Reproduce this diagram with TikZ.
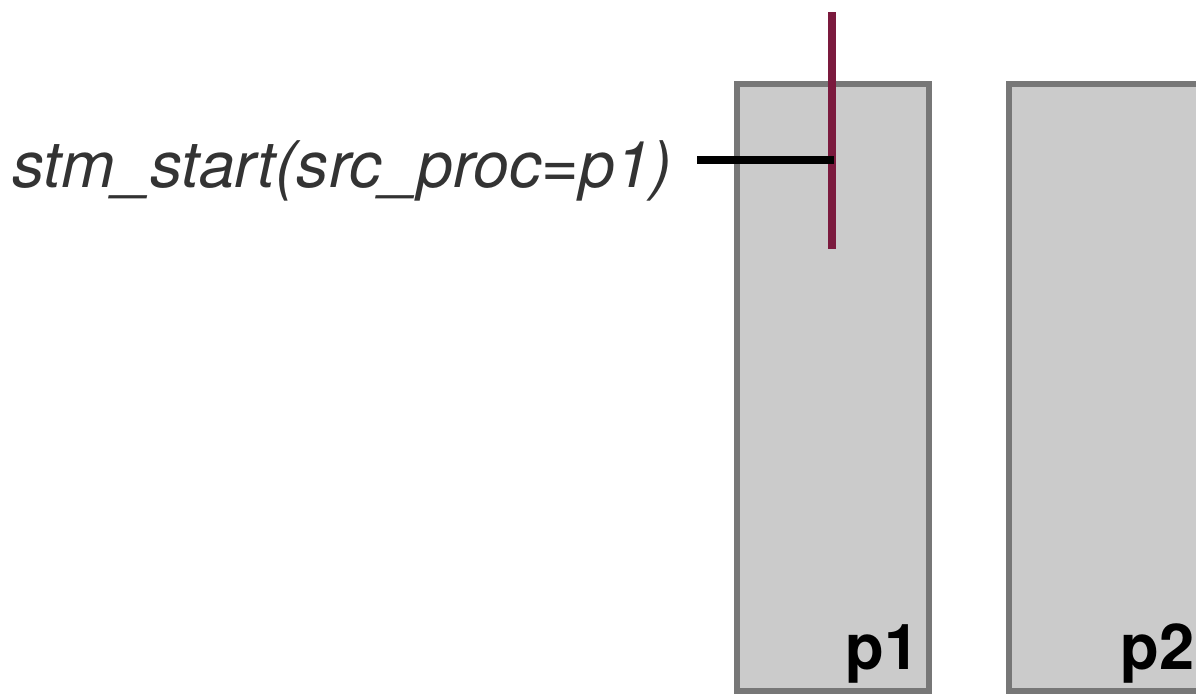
\documentclass[tikz,border=0pt]{standalone}
\usepackage{fontspec}
\setsansfont{TeX Gyre Heros}
\usepackage{xcolor}
\usetikzlibrary{positioning}
\definecolor{procFill}{HTML}{CBCBCB}
\definecolor{procEdge}{HTML}{777777}
\definecolor{stmLine}{HTML}{7B1A3E}
\definecolor{txtDark}{HTML}{333333}
\tikzset{
  proc/.style={draw=procEdge, fill=procFill, line width=3pt},
  proclabel/.style={font=\sffamily\bfseries\fontsize{36}{40}\selectfont, inner sep=0pt, anchor=base east},
  callname/.style={font=\sffamily\itshape\fontsize{36.6}{40}\selectfont, text=txtDark, inner sep=0pt, anchor=base west}
}

\begin{document}
\begin{tikzpicture}[x=0.02cm, y=-0.02cm]
  \clip (0,0) rectangle (1196,694);
  \fill[white] (0,0) rectangle (1196,694);
  % processes
  \draw[proc] (737,84) rectangle (929,691);
  \draw[proc] (1009,84) rectangle (1260,691);
  \node[proclabel] (p1) at (920,669) {p1};
  \node[proclabel] (p2) at (1195,669) {p2};
  % stream on p1
  \coordinate (stmtop) at (832,12);
  \coordinate (stmbot) at (832,249);
  \draw[stmLine, line width=4.5pt] (stmtop) -- (stmbot);
  % call
  \node[callname] (call) at (12,187) {stm\_start(src\_proc=p1)};
  \coordinate (callstart) at (697,160);
  \coordinate (callend) at (834,160);
  \draw[black, line width=4.5pt] (callstart) -- (callend);
\end{tikzpicture}
\end{document}
